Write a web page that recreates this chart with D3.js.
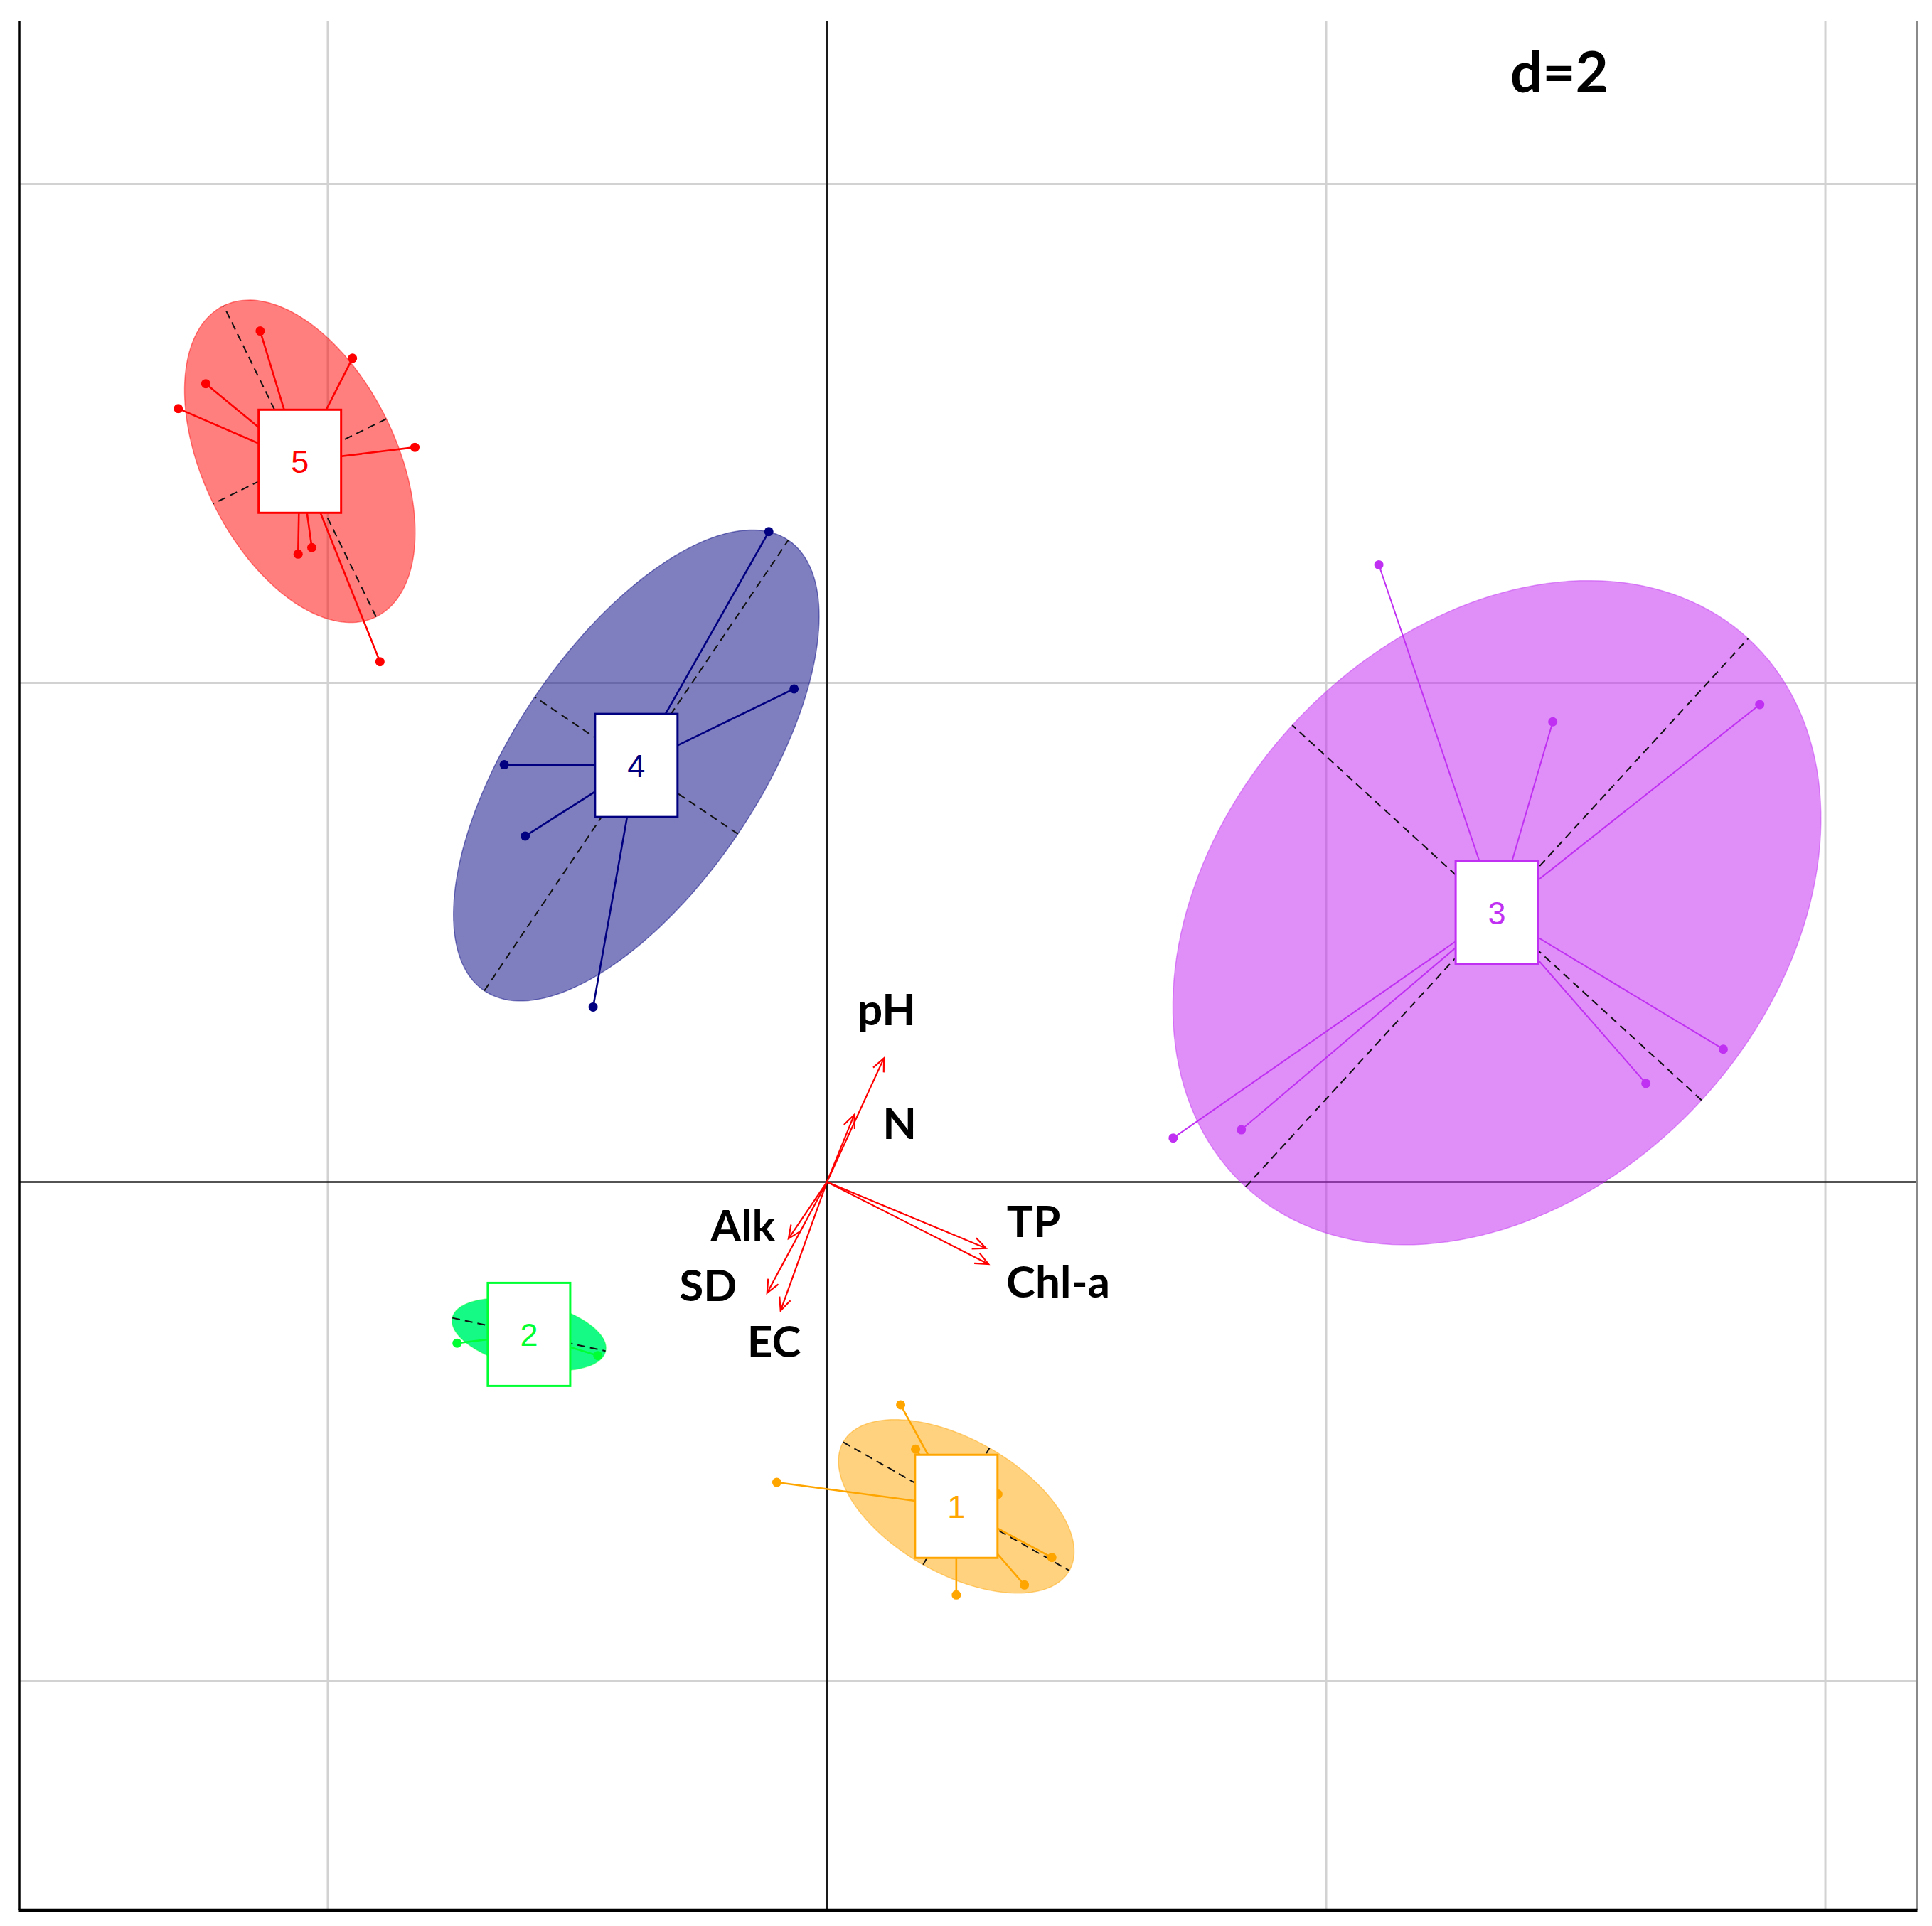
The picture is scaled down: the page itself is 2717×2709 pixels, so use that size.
<!DOCTYPE html>
<html>
<head>
<meta charset="utf-8">
<script src="https://cdn.jsdelivr.net/npm/d3@7"></script>
<style>
  html, body { margin: 0; padding: 0; background: #ffffff; }
  svg { display: block; }
</style>
</head>
<body>
<script>
// ---------------- DATA ----------------
const groups = ["1", "2", "3", "4", "5"];
const groupColors = ["#FFA500", "#00FF33", "#BF30F2", "#000080", "#FF0000"];
const groupFills  = ["#FFA500", "#08FA7E", "#C11DF1", "#000080", "#FF0000"];
const groupFillOpacity = [0.5, 0.95, 0.5, 0.5, 0.5];

// class centroids (where the label boxes sit)
const centroidX = [0.518, -1.194, 2.684, -0.764, -2.112];
const centroidY = [-1.300, -0.611, 1.079, 1.669, 2.888];

// ellipse semi-axes and orientation of the major axis (degrees)
const ellipseA = [0.521, 0.314, 1.490, 1.089, 0.694];
const ellipseB = [0.269, 0.132, 1.112, 0.491, 0.386];
const ellipseAngle = [-29.6, -12.2, 47.5, 56.0, 116.1];

// individual sites
const pointGroup = [
  "1","1","1","1","1","1","1",
  "2","2",
  "3","3","3","3","3","3","3",
  "4","4","4","4","4",
  "5","5","5","5","5","5","5","5"
];
const pointX = [
  0.295, 0.355, -0.201, 0.518, 0.791, 0.901, 0.685,
  -1.482, -0.918,
  2.211, 2.908, 3.737, 3.591, 3.281, 1.660, 1.387,
  -0.233, -0.132, -1.293, -1.209, -0.937,
  -2.271, -2.489, -2.599, -1.901, -1.651, -2.119, -2.064, -1.791
];
const pointY = [
  -0.893, -1.071, -1.204, -1.655, -1.615, -1.505, -1.251,
  -0.646, -0.696,
  2.473, 1.844, 1.913, 0.532, 0.395, 0.209, 0.176,
  2.606, 1.976, 1.672, 1.386, 0.701,
  3.410, 3.199, 3.099, 3.301, 2.944, 2.516, 2.542, 2.085
];

// environmental variable arrows
const varNames = ["pH", "N", "TP", "Chl-a", "Alk", "SD", "EC"];
const varX = [0.228, 0.109, 0.637, 0.647, -0.154, -0.240, -0.186];
const varY = [0.496, 0.269, -0.266, -0.329, -0.227, -0.445, -0.516];

// grid
const gridTicks = [-2, 0, 2, 4];
const gridLabel = "d=2";

// ---------------- LAYOUT ----------------
const W = 2717, H = 2709;
const plotLeft = 27.5, plotRight = 2695.5, plotTop = 30, plotBottom = 2687;

const x = d3.scaleLinear().domain([-3.235, 4.366]).range([plotLeft, plotRight]);
const y = d3.scaleLinear().domain([-2.919, 4.651]).range([plotBottom, plotTop]);

// label offsets (pixels from arrow tip: dx, dy to text centre/baseline)
const varLabelOffset = {
  "pH": [4, -46], "N": [64, 34], "TP": [67, -16], "Chl-a": [98, 47],
  "Alk": [-64, 4], "SD": [-83, 11], "EC": [-9, 65]
};

const svg = d3.select("body").append("svg")
  .attr("width", W).attr("height", H)
  .attr("viewBox", `0 0 ${W} ${H}`);

svg.append("rect").attr("width", W).attr("height", H).attr("fill", "#ffffff");

// grid
const grid = svg.append("g");
grid.selectAll("line.gx").data(gridTicks.filter(t => t !== 0)).join("line")
  .attr("class", "gx")
  .attr("x1", d => x(d)).attr("x2", d => x(d))
  .attr("y1", plotTop).attr("y2", plotBottom)
  .attr("stroke", "#D2D2D2").attr("stroke-width", 3);
grid.selectAll("line.gy").data(gridTicks.filter(t => t !== 0)).join("line")
  .attr("class", "gy")
  .attr("x1", plotLeft).attr("x2", plotRight)
  .attr("y1", d => y(d)).attr("y2", d => y(d))
  .attr("stroke", "#D2D2D2").attr("stroke-width", 3);

// axes through origin
svg.append("line").attr("x1", x(0)).attr("x2", x(0)).attr("y1", plotTop).attr("y2", plotBottom)
  .attr("stroke", "#1a1a1a").attr("stroke-width", 2.5);
svg.append("line").attr("x1", plotLeft).attr("x2", plotRight).attr("y1", y(0)).attr("y2", y(0))
  .attr("stroke", "#1a1a1a").attr("stroke-width", 2.5);

// frame
svg.append("line").attr("x1", plotLeft).attr("x2", plotLeft).attr("y1", plotTop).attr("y2", plotBottom)
  .attr("stroke", "#000").attr("stroke-width", 2.5);
svg.append("line").attr("x1", plotRight).attr("x2", plotRight).attr("y1", plotTop).attr("y2", plotBottom)
  .attr("stroke", "#8a8a8a").attr("stroke-width", 3);
svg.append("line").attr("x1", plotLeft - 1).attr("x2", plotRight + 1).attr("y1", plotBottom).attr("y2", plotBottom)
  .attr("stroke", "#000").attr("stroke-width", 4.5);

// "d=2"
svg.append("text")
  .attr("x", x(2.934)).attr("y", 130)
  .attr("text-anchor", "middle")
  .attr("font-family", "Lato, 'Open Sans', sans-serif")
  .attr("font-weight", 700).attr("font-size", 80)
  .attr("fill", "#000")
  .text(gridLabel);

// ---------------- CLASSES ----------------
const line = d3.line();
function ellipsePoints(i) {
  const th = ellipseAngle[i] * Math.PI / 180;
  const ux = Math.cos(th), uy = Math.sin(th);
  const vx = -Math.sin(th), vy = Math.cos(th);
  return d3.range(0, 361, 2).map(deg => {
    const t = deg * Math.PI / 180;
    const px = centroidX[i] + ellipseA[i] * Math.cos(t) * ux + ellipseB[i] * Math.sin(t) * vx;
    const py = centroidY[i] + ellipseA[i] * Math.cos(t) * uy + ellipseB[i] * Math.sin(t) * vy;
    return [x(px), y(py)];
  });
}
function axisEnds(i, useMajor) {
  const th = ellipseAngle[i] * Math.PI / 180;
  let dx, dy, r;
  if (useMajor) { dx = Math.cos(th); dy = Math.sin(th); r = ellipseA[i]; }
  else { dx = -Math.sin(th); dy = Math.cos(th); r = ellipseB[i]; }
  return [[x(centroidX[i] - r * dx), y(centroidY[i] - r * dy)],
          [x(centroidX[i] + r * dx), y(centroidY[i] + r * dy)]];
}

const classLayer = svg.append("g");
groups.forEach((g, i) => {
  const gg = classLayer.append("g");
  gg.append("path")
    .attr("d", line(ellipsePoints(i)) + "Z")
    .attr("fill", groupFills[i]).attr("fill-opacity", groupFillOpacity[i])
    .attr("stroke", groupColors[i]).attr("stroke-opacity", 0.45).attr("stroke-width", 1.5);
  [true, false].forEach(m => {
    const e = axisEnds(i, m);
    gg.append("line")
      .attr("x1", e[0][0]).attr("y1", e[0][1]).attr("x2", e[1][0]).attr("y2", e[1][1])
      .attr("stroke", "#111").attr("stroke-width", 2)
      .attr("stroke-dasharray", "11,7");
  });
});

// stars and points
const pts = pointX.map((v, k) => ({ x: v, y: pointY[k], g: groups.indexOf(pointGroup[k]) }));
classLayer.selectAll("line.star").data(pts).join("line")
  .attr("class", "star")
  .attr("x1", d => x(centroidX[d.g])).attr("y1", d => y(centroidY[d.g]))
  .attr("x2", d => x(d.x)).attr("y2", d => y(d.y))
  .attr("stroke", d => groupColors[d.g])
  .attr("stroke-width", d => d.g === 2 ? 2 : 2.6);
classLayer.selectAll("circle.pt").data(pts).join("circle")
  .attr("class", "pt")
  .attr("cx", d => x(d.x)).attr("cy", d => y(d.y))
  .attr("r", 6.5)
  .attr("fill", d => groupColors[d.g]);

// label boxes
const boxW = 116, boxH = 145;
groups.forEach((g, i) => {
  const cx = x(centroidX[i]), cy = y(centroidY[i]);
  classLayer.append("rect")
    .attr("x", cx - boxW / 2).attr("y", cy - boxH / 2)
    .attr("width", boxW).attr("height", boxH)
    .attr("fill", "#fff").attr("stroke", groupColors[i]).attr("stroke-width", 3);
  classLayer.append("text")
    .attr("x", cx).attr("y", cy + 16)
    .attr("text-anchor", "middle")
    .attr("font-family", "'Liberation Sans', Arial, sans-serif")
    .attr("font-size", 45)
    .attr("fill", groupColors[i])
    .text(g);
});

// ---------------- ARROWS ----------------
const arrowLayer = svg.append("g");
varNames.forEach((name, k) => {
  const x0 = x(0), y0 = y(0), x1 = x(varX[k]), y1 = y(varY[k]);
  arrowLayer.append("line")
    .attr("x1", x0).attr("y1", y0).attr("x2", x1).attr("y2", y1)
    .attr("stroke", "#FF0000").attr("stroke-width", 2.2);
  const ang = Math.atan2(y1 - y0, x1 - x0);
  const hl = 20, ha = 24 * Math.PI / 180;
  const head = [
    [x1 - hl * Math.cos(ang - ha), y1 - hl * Math.sin(ang - ha)],
    [x1, y1],
    [x1 - hl * Math.cos(ang + ha), y1 - hl * Math.sin(ang + ha)]
  ];
  arrowLayer.append("path")
    .attr("d", line(head))
    .attr("fill", "none").attr("stroke", "#FF0000").attr("stroke-width", 2.2);
  const off = varLabelOffset[name];
  arrowLayer.append("text")
    .attr("x", x1 + off[0]).attr("y", y1 + off[1])
    .attr("text-anchor", "middle")
    .attr("font-family", "Lato, 'Open Sans', sans-serif")
    .attr("font-weight", 700).attr("font-size", 62)
    .attr("fill", "#000")
    .text(name);
});
</script>
</body>
</html>
